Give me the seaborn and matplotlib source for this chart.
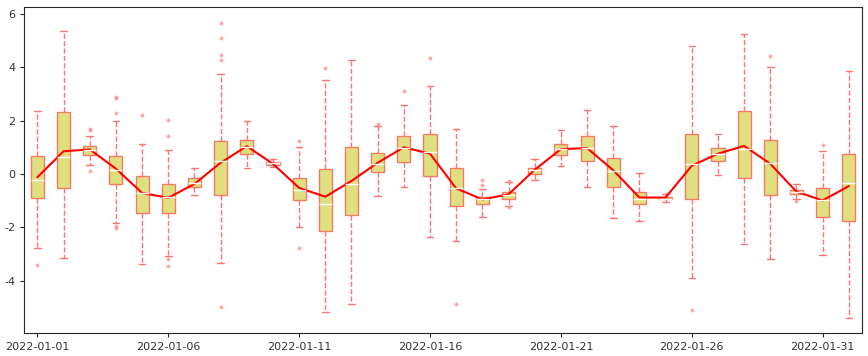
import numpy as np
import pandas as pd
import seaborn as sns
import matplotlib
matplotlib.use('Agg')
import matplotlib.pyplot as plt

dates = pd.date_range('2022-01-01', '2022-02-01').strftime('%Y-%m-%d').tolist()

# per-day box statistics
whis_hi = [2.35, 5.36, 1.42, 1.98, 1.13, 0.90, 0.24, 3.73, 1.98, 0.55, 1.02, 3.53, 4.28, 1.80, 2.58, 3.28,
           1.68, -0.56, -0.30, 0.57, 1.65, 2.39, 1.80, 0.05, -0.75, 4.80, 1.50, 5.24, 3.99, -0.36, 0.87, 3.84]
q3 = [0.68, 2.32, 1.05, 0.68, -0.06, -0.36, -0.14, 1.24, 1.28, 0.45, -0.14, 0.20, 1.02, 0.79, 1.42, 1.50,
      0.24, -0.85, -0.67, 0.24, 1.13, 1.42, 0.61, -0.66, -0.86, 1.50, 0.98, 2.35, 1.28, -0.58, -0.51, 0.76]
med = [-0.21, 0.64, 0.90, 0.16, -0.71, -0.85, -0.32, 0.50, 1.00, 0.40, -0.58, -1.13, -0.36, 0.38, 0.98, 0.83,
       -0.54, -0.95, -0.77, 0.14, 0.92, 0.98, 0.12, -0.92, -0.92, 0.38, 0.76, 0.94, 0.42, -0.66, -0.99, -0.32]
q1 = [-0.88, -0.54, 0.72, -0.36, -1.47, -1.47, -0.47, -0.77, 0.76, 0.35, -0.99, -2.14, -1.55, 0.09, 0.46, -0.06,
      -1.21, -1.14, -0.92, 0.01, 0.72, 0.50, -0.47, -1.14, -0.95, -0.92, 0.50, -0.14, -0.77, -0.73, -1.59, -1.77]
whis_lo = [-2.77, -3.15, 0.35, -1.85, -3.37, -3.07, -0.80, -3.33, 0.24, 0.28, -1.99, -5.15, -4.85, -0.84, -0.47, -2.37,
           -2.51, -1.59, -1.20, -0.21, 0.31, -0.47, -1.66, -1.77, -1.04, -3.89, -0.02, -2.63, -3.18, -0.92, -3.03, -5.37]
means = [-0.12, 0.85, 0.92, 0.20, -0.71, -0.89, -0.37, 0.42, 1.04, 0.38, -0.52, -0.85, -0.26, 0.42, 1.00, 0.76,
         -0.54, -0.95, -0.76, 0.16, 0.93, 0.97, 0.14, -0.88, -0.88, 0.31, 0.76, 1.05, 0.38, -0.66, -0.99, -0.45]
outliers = [[-3.41], [], [1.68, 1.66, 0.12], [2.87, 2.86, 2.28, -1.94, -2.02], [2.20], [2.02, 1.42, -3.18, -3.44],
            [], [5.66, 5.10, 4.45, 4.28, -4.97], [], [], [1.24, -2.77], [3.95], [], [1.87], [3.11], [4.32],
            [-4.85], [-0.21, -0.40], [-0.28, -1.25], [], [], [], [], [], [-0.73], [-5.08], [], [],
            [4.43], [-1.00], [1.09], []]

sns.set_style('ticks')

fig = plt.figure(figsize=(8.68, 3.56), dpi=100)
ax = fig.add_axes([0.028, 0.065, 0.965, 0.915])

stats = []
for i in range(len(dates)):
    stats.append(dict(whislo=whis_lo[i], q1=q1[i], med=med[i], q3=q3[i], whishi=whis_hi[i],
                      fliers=outliers[i], label=dates[i]))

ax.bxp(stats, positions=range(len(dates)), widths=0.5, patch_artist=True,
       boxprops=dict(facecolor='#dfdf80', edgecolor='#f37a63', linewidth=1),
       whiskerprops=dict(color='#ff7373', linestyle='--', linewidth=1),
       capprops=dict(color='#ff7373', linewidth=1),
       medianprops=dict(color='white', linewidth=1),
       flierprops=dict(marker='o', markersize=2, markerfacecolor='#ff5555',
                       markeredgecolor='#ff9999', alpha=0.55, linestyle='none'))

sns.lineplot(x=list(range(len(dates))), y=means, color='red', linewidth=1.5, ax=ax)

ax.set_xlim(-0.5, len(dates) - 0.5)
ax.set_ylim(-5.94, 6.24)
ax.set_xticks(range(0, len(dates), 5))
ax.set_xticklabels(dates[::5], fontsize=8, color='#333333')
ax.set_yticks([-4, -2, 0, 2, 4, 6])
ax.set_yticklabels(['-4', '-2', '0', '2', '4', '6'], fontsize=8, color='#333333')
ax.tick_params(length=3)

plt.savefig('out.png', dpi=100)
